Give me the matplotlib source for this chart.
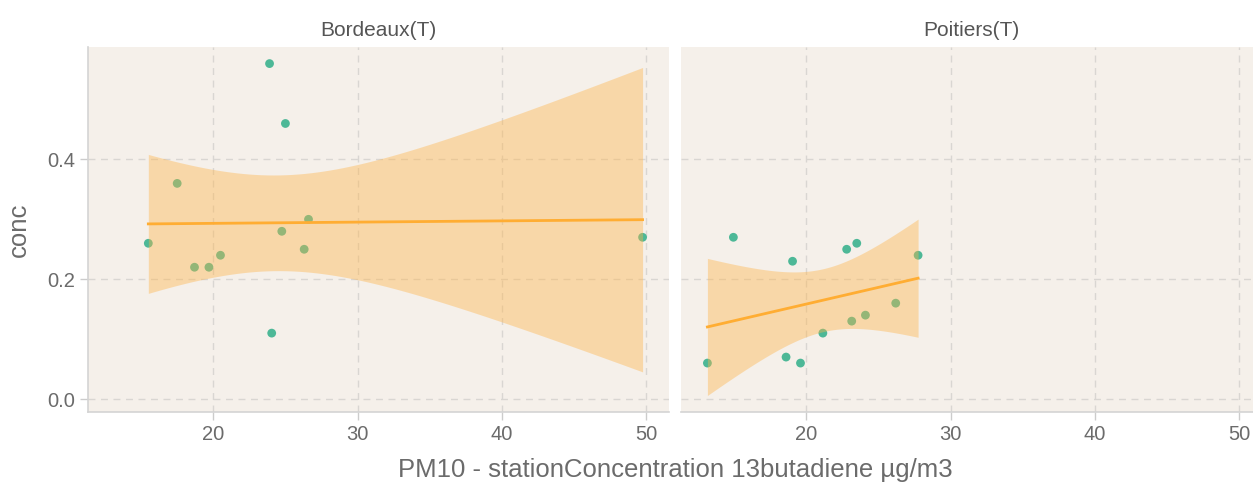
import matplotlib
matplotlib.use('Agg')
import matplotlib.pyplot as plt
import numpy as np

plt.rcParams['font.family'] = ['Liberation Sans', 'DejaVu Sans']

# data
stations = ['Bordeaux(T)', 'Poitiers(T)']
bordeaux_x = [15.5, 17.5, 18.7, 19.7, 20.5, 23.9, 25.0, 24.05, 24.75, 26.3, 26.6, 49.75]
bordeaux_y = [0.26, 0.36, 0.22, 0.22, 0.24, 0.56, 0.46, 0.11, 0.28, 0.25, 0.30, 0.27]
poitiers_x = [13.15, 14.95, 19.05, 18.6, 19.6, 21.15, 22.8, 23.5, 23.15, 24.1, 26.2, 27.75]
poitiers_y = [0.06, 0.27, 0.23, 0.07, 0.06, 0.11, 0.25, 0.26, 0.13, 0.14, 0.16, 0.24]
xticks = [20, 30, 40, 50]
yticks = [0.0, 0.2, 0.4]
xlabel = 'PM10 - stationConcentration 13butadiene µg/m3'
ylabel = 'conc'

T975 = {10: 2.228}  # t quantile for 95% band, df = n - 2

bg = '#f5f0ea'
pt_col = '#4db897'
band_col = '#ffb347'
line_col = '#ffad33'
grid_col = '#d9d6d2'
txt_col = '#6b6b6b'

W, H = 1253, 491
fig = plt.figure(figsize=(W / 100, H / 100), dpi=100)
fig.patch.set_facecolor('white')

pw = 581
ax1 = fig.add_axes([88 / W, (H - 412) / H, pw / W, 365 / H])
ax2 = fig.add_axes([681 / W, (H - 412) / H, pw / W, 365 / H])

series = [(bordeaux_x, bordeaux_y), (poitiers_x, poitiers_y)]
for ax, name, (xs, ys) in zip([ax1, ax2], stations, series):
    xs = np.array(xs)
    ys = np.array(ys)
    ax.set_facecolor(bg)
    ax.scatter(xs, ys, s=40, color=pt_col, edgecolors='none', zorder=2)

    # linear fit with confidence band (like geom_smooth(method='lm'))
    n = len(xs)
    b, a = np.polyfit(xs, ys, 1)
    resid = ys - (a + b * xs)
    s = np.sqrt(np.sum(resid ** 2) / (n - 2))
    sxx = np.sum((xs - xs.mean()) ** 2)
    gx = np.linspace(xs.min(), xs.max(), 80)
    gy = a + b * gx
    se = s * np.sqrt(1 / n + (gx - xs.mean()) ** 2 / sxx)
    t = T975[n - 2]
    ax.fill_between(gx, gy - t * se, gy + t * se, color=band_col, alpha=0.4,
                    linewidth=0, zorder=3)
    ax.plot(gx, gy, color=line_col, linewidth=2, zorder=4)

    ax.set_xlim(11.32, 51.58)
    ax.set_ylim(-0.0217, 0.5877)
    ax.set_xticks(xticks)
    ax.set_yticks(yticks)
    ax.grid(True, color=grid_col, linestyle=(0, (5, 4)), linewidth=1, zorder=1)
    ax.set_axisbelow(True)
    for sp in ['top', 'right', 'left']:
        ax.spines[sp].set_visible(False)
    ax.spines['bottom'].set_color('#d4d4d4')
    ax.spines['bottom'].set_linewidth(1.2)
    ax.tick_params(axis='both', colors='#cccccc', labelcolor=txt_col,
                   labelsize=14.5, length=6, width=1, pad=3)
    ax.set_title(name, fontsize=15, color='#555555', pad=8)

ax1.spines['left'].set_visible(True)
ax1.spines['left'].set_color('#d4d4d4')
ax1.spines['left'].set_linewidth(1.2)
ax1.set_yticklabels(['0.0', '0.2', '0.4'])
ax1.set_ylabel(ylabel, fontsize=18.5, color=txt_col, labelpad=12)
ax2.tick_params(axis='y', left=False, labelleft=False)

fig.text(0.5 * (88 + 1262) / W, (H - 470) / H, xlabel, ha='center', va='center',
         fontsize=18.5, color=txt_col)

fig.savefig('out.png', dpi=100)
